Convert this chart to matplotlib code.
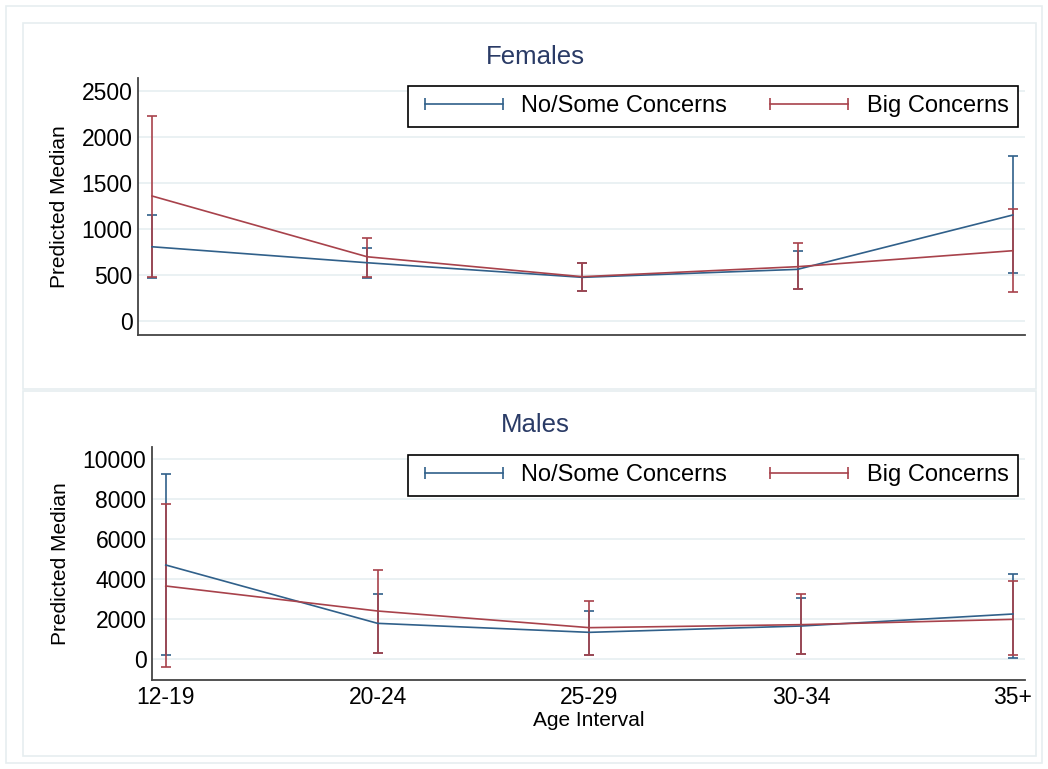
import matplotlib
matplotlib.use("Agg")
import matplotlib.pyplot as plt
from matplotlib.lines import Line2D
from matplotlib.patches import Rectangle

# age groups on the x axis
ages = ["12-19", "20-24", "25-29", "30-34", "35+"]

# Females: predicted medians and confidence limits
fem_some = [809, 635, 476, 563, 1155]
fem_some_lo = [465, 465, 323, 349, 520]
fem_some_hi = [1155, 798, 630, 766, 1801]
fem_big = [1362, 700, 483, 592, 766]
fem_big_lo = [483, 475, 323, 349, 313]
fem_big_hi = [2237, 901, 635, 853, 1217]

# Males
male_some = [4700, 1783, 1333, 1650, 2250]
male_some_lo = [200, 300, 183, 233, 33]
male_some_hi = [9250, 3250, 2383, 3067, 4233]
male_big = [3650, 2400, 1567, 1717, 1983]
male_big_lo = [-415, 317, 183, 233, 200]
male_big_hi = [7735, 4450, 2917, 3233, 3917]

BLUE = "#30608a"
RED = "#a8424b"
GRID = "#e6eff1"
FRAME = "#e6eef0"
TITLE = "#2a3b66"

plt.rcParams["font.family"] = ["Liberation Sans", "DejaVu Sans"]

W, H = 1048, 769
fig = plt.figure(figsize=(W / 100, H / 100), dpi=100)


def fx(px):
    return px / W


def fy(py):
    return 1 - py / H


# light frames around the whole graph and each panel
for (x0, y0, x1, y1) in [(6, 6, 1042, 763), (23, 23, 1036, 389), (23, 391, 1036, 756)]:
    fig.patches.append(Rectangle((fx(x0), fy(y1)), fx(x1) - fx(x0), fy(y0) - fy(y1),
                                 transform=fig.transFigure, fill=False,
                                 edgecolor=FRAME, lw=1.2))


def panel(rect, some, some_lo, some_hi, big, big_lo, big_hi, ylim, yticks,
          title, legend_top, show_x):
    x0, y0, x1, y1 = rect
    ax = fig.add_axes([fx(x0), fy(y1), fx(x1) - fx(x0), fy(y0) - fy(y1)])
    xs = list(range(len(ages)))
    for vals, lo, hi, col in [(some, some_lo, some_hi, BLUE), (big, big_lo, big_hi, RED)]:
        err = [[v - l for v, l in zip(vals, lo)], [h - v for v, h in zip(vals, hi)]]
        ax.errorbar(xs, vals, yerr=err, color=col, lw=1.2, elinewidth=1.2,
                    capsize=3.6, capthick=1.2, zorder=3)
    ax.set_xlim(-0.065, 4.057)
    ax.set_ylim(*ylim)
    ax.set_yticks(yticks)
    ax.set_yticklabels([str(t) for t in yticks], fontsize=16.5)
    ax.set_xticks(xs)
    if show_x:
        ax.set_xticklabels(ages, fontsize=16.5)
        ax.set_xlabel("Age Interval", fontsize=15, labelpad=2)
    else:
        ax.set_xticklabels([])
    ax.tick_params(axis="both", length=0, pad=4)
    ax.yaxis.grid(True, color=GRID, lw=1.2)
    ax.set_axisbelow(True)
    for s in ["top", "right"]:
        ax.spines[s].set_visible(False)
    for s in ["left", "bottom"]:
        ax.spines[s].set_color("#444444")
        ax.spines[s].set_linewidth(1.3)
    ax.set_ylabel("Predicted Median", fontsize=15, labelpad=9)

    fig.text(fx(535), fy(title[1]), title[0], ha="center", va="center",
             fontsize=18.5, color=TITLE)

    handles = [Line2D([], [], color=BLUE, lw=1.2, marker="|", markersize=9, mew=1.2),
               Line2D([], [], color=RED, lw=1.2, marker="|", markersize=9, mew=1.2)]
    leg = fig.legend(handles, ["No/Some Concerns", "Big Concerns"], ncol=2,
                     loc="upper right", bbox_to_anchor=(fx(1018), fy(legend_top)),
                     bbox_transform=fig.transFigure, numpoints=2, fontsize=17,
                     handlelength=3.9, handletextpad=0.5, columnspacing=1.5,
                     borderpad=0.4, borderaxespad=0, fancybox=False,
                     edgecolor="black", framealpha=1)
    leg.get_frame().set_linewidth(1.2)
    return ax


panel((138, 78, 1025, 335), fem_some, fem_some_lo, fem_some_hi,
      fem_big, fem_big_lo, fem_big_hi, (-152, 2647), [0, 500, 1000, 1500, 2000, 2500],
      ("Females", 57), 86, False)
panel((152, 447, 1025, 680), male_some, male_some_lo, male_some_hi,
      male_big, male_big_lo, male_big_hi, (-1050, 10600), [0, 2000, 4000, 6000, 8000, 10000],
      ("Males", 425), 455, True)

fig.savefig("out.png", dpi=100)
